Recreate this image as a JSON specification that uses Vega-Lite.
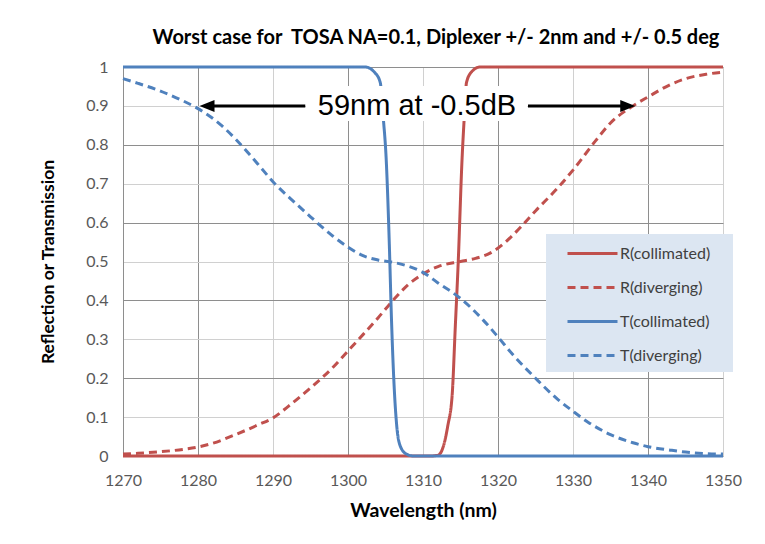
{
  "$schema": "https://vega.github.io/schema/vega-lite/v6.json",
  "width": 600,
  "height": 389,
  "autosize": {"type": "none"},
  "padding": {"left": 123, "top": 67, "right": 42, "bottom": 88},
  "background": "white",
  "title": {
    "text": "Worst case for \u00a0TOSA NA=0.1, Diplexer +/- 2nm and +/- 0.5 deg",
    "font": "Lato", "fontSize": 20, "fontWeight": "bold", "color": "black",
    "anchor": "middle", "baseline": "alphabetic", "offset": 24, "dx": 13, "dy": 29
  },
  "config": {
    "view": {"stroke": null},
    "axis": {
      "labelFont": "Lato", "labelFontSize": 16, "labelColor": "#595959",
      "labelFlush": false, "labelOverlap": false, "ticks": false,
      "titleFont": "Lato", "titleFontWeight": "bold", "titleColor": "black",
      "grid": true
    },
    "axisX": {"labelPadding": 16, "domain": false, "titleFontSize": 19.5},
    "axisY": {"labelPadding": 15, "domain": true, "domainColor": "#8e8e8e", "titleFontSize": 17.5}
  },
  "resolve": {"axis": {"x": "independent", "y": "independent"}},
  "datasets": {
    "curves": [
      {"wl": 1270, "v": 0, "series": "R(collimated)"},
      {"wl": 1300, "v": 0, "series": "R(collimated)"},
      {"wl": 1311, "v": 0, "series": "R(collimated)"},
      {"wl": 1312, "v": 0.002, "series": "R(collimated)"},
      {"wl": 1312.7, "v": 0.024, "series": "R(collimated)"},
      {"wl": 1313.3, "v": 0.077, "series": "R(collimated)"},
      {"wl": 1313.9, "v": 0.16, "series": "R(collimated)"},
      {"wl": 1314.3, "v": 0.33, "series": "R(collimated)"},
      {"wl": 1314.7, "v": 0.5, "series": "R(collimated)"},
      {"wl": 1315.2, "v": 0.76, "series": "R(collimated)"},
      {"wl": 1315.5, "v": 0.87, "series": "R(collimated)"},
      {"wl": 1315.8, "v": 0.96, "series": "R(collimated)"},
      {"wl": 1316.5, "v": 0.988, "series": "R(collimated)"},
      {"wl": 1317.6, "v": 1, "series": "R(collimated)"},
      {"wl": 1330, "v": 1, "series": "R(collimated)"},
      {"wl": 1350, "v": 1, "series": "R(collimated)"},

      {"wl": 1270, "v": 0.005, "series": "R(diverging)"},
      {"wl": 1272, "v": 0.007, "series": "R(diverging)"},
      {"wl": 1275, "v": 0.011, "series": "R(diverging)"},
      {"wl": 1278, "v": 0.017, "series": "R(diverging)"},
      {"wl": 1280, "v": 0.023, "series": "R(diverging)"},
      {"wl": 1282, "v": 0.033, "series": "R(diverging)"},
      {"wl": 1285, "v": 0.055, "series": "R(diverging)"},
      {"wl": 1288, "v": 0.08, "series": "R(diverging)"},
      {"wl": 1290, "v": 0.098, "series": "R(diverging)"},
      {"wl": 1292, "v": 0.127, "series": "R(diverging)"},
      {"wl": 1295, "v": 0.175, "series": "R(diverging)"},
      {"wl": 1298, "v": 0.228, "series": "R(diverging)"},
      {"wl": 1300, "v": 0.27, "series": "R(diverging)"},
      {"wl": 1302, "v": 0.312, "series": "R(diverging)"},
      {"wl": 1304, "v": 0.355, "series": "R(diverging)"},
      {"wl": 1306, "v": 0.4, "series": "R(diverging)"},
      {"wl": 1308, "v": 0.44, "series": "R(diverging)"},
      {"wl": 1310, "v": 0.468, "series": "R(diverging)"},
      {"wl": 1312, "v": 0.487, "series": "R(diverging)"},
      {"wl": 1315, "v": 0.5, "series": "R(diverging)"},
      {"wl": 1317, "v": 0.508, "series": "R(diverging)"},
      {"wl": 1319, "v": 0.522, "series": "R(diverging)"},
      {"wl": 1321, "v": 0.55, "series": "R(diverging)"},
      {"wl": 1323, "v": 0.588, "series": "R(diverging)"},
      {"wl": 1325, "v": 0.63, "series": "R(diverging)"},
      {"wl": 1328, "v": 0.69, "series": "R(diverging)"},
      {"wl": 1330, "v": 0.735, "series": "R(diverging)"},
      {"wl": 1333, "v": 0.81, "series": "R(diverging)"},
      {"wl": 1335, "v": 0.856, "series": "R(diverging)"},
      {"wl": 1338, "v": 0.9, "series": "R(diverging)"},
      {"wl": 1340, "v": 0.923, "series": "R(diverging)"},
      {"wl": 1343, "v": 0.955, "series": "R(diverging)"},
      {"wl": 1345, "v": 0.97, "series": "R(diverging)"},
      {"wl": 1348, "v": 0.982, "series": "R(diverging)"},
      {"wl": 1350, "v": 0.987, "series": "R(diverging)"},

      {"wl": 1270, "v": 1, "series": "T(collimated)"},
      {"wl": 1290, "v": 1, "series": "T(collimated)"},
      {"wl": 1302.3, "v": 1, "series": "T(collimated)"},
      {"wl": 1303.6, "v": 0.985, "series": "T(collimated)"},
      {"wl": 1304.3, "v": 0.96, "series": "T(collimated)"},
      {"wl": 1304.7, "v": 0.87, "series": "T(collimated)"},
      {"wl": 1305.1, "v": 0.76, "series": "T(collimated)"},
      {"wl": 1305.5, "v": 0.55, "series": "T(collimated)"},
      {"wl": 1305.8, "v": 0.35, "series": "T(collimated)"},
      {"wl": 1306.1, "v": 0.2, "series": "T(collimated)"},
      {"wl": 1306.5, "v": 0.077, "series": "T(collimated)"},
      {"wl": 1307.0, "v": 0.024, "series": "T(collimated)"},
      {"wl": 1307.8, "v": 0.005, "series": "T(collimated)"},
      {"wl": 1308.7, "v": 0, "series": "T(collimated)"},
      {"wl": 1320, "v": 0, "series": "T(collimated)"},
      {"wl": 1350, "v": 0, "series": "T(collimated)"},

      {"wl": 1270, "v": 0.97, "series": "T(diverging)"},
      {"wl": 1272, "v": 0.958, "series": "T(diverging)"},
      {"wl": 1275, "v": 0.938, "series": "T(diverging)"},
      {"wl": 1278, "v": 0.913, "series": "T(diverging)"},
      {"wl": 1280, "v": 0.893, "series": "T(diverging)"},
      {"wl": 1283, "v": 0.852, "series": "T(diverging)"},
      {"wl": 1285, "v": 0.815, "series": "T(diverging)"},
      {"wl": 1288, "v": 0.75, "series": "T(diverging)"},
      {"wl": 1290, "v": 0.705, "series": "T(diverging)"},
      {"wl": 1293, "v": 0.65, "series": "T(diverging)"},
      {"wl": 1295, "v": 0.615, "series": "T(diverging)"},
      {"wl": 1298, "v": 0.565, "series": "T(diverging)"},
      {"wl": 1300, "v": 0.537, "series": "T(diverging)"},
      {"wl": 1302, "v": 0.515, "series": "T(diverging)"},
      {"wl": 1304, "v": 0.504, "series": "T(diverging)"},
      {"wl": 1306, "v": 0.498, "series": "T(diverging)"},
      {"wl": 1308, "v": 0.488, "series": "T(diverging)"},
      {"wl": 1310, "v": 0.472, "series": "T(diverging)"},
      {"wl": 1312, "v": 0.445, "series": "T(diverging)"},
      {"wl": 1315, "v": 0.405, "series": "T(diverging)"},
      {"wl": 1318, "v": 0.35, "series": "T(diverging)"},
      {"wl": 1320, "v": 0.306, "series": "T(diverging)"},
      {"wl": 1322, "v": 0.26, "series": "T(diverging)"},
      {"wl": 1325, "v": 0.2, "series": "T(diverging)"},
      {"wl": 1328, "v": 0.145, "series": "T(diverging)"},
      {"wl": 1330, "v": 0.115, "series": "T(diverging)"},
      {"wl": 1332, "v": 0.087, "series": "T(diverging)"},
      {"wl": 1335, "v": 0.055, "series": "T(diverging)"},
      {"wl": 1338, "v": 0.034, "series": "T(diverging)"},
      {"wl": 1340, "v": 0.024, "series": "T(diverging)"},
      {"wl": 1343, "v": 0.015, "series": "T(diverging)"},
      {"wl": 1345, "v": 0.01, "series": "T(diverging)"},
      {"wl": 1348, "v": 0.006, "series": "T(diverging)"},
      {"wl": 1350, "v": 0.005, "series": "T(diverging)"}
    ],
    "notebox": [{"x": 1294.4, "x2": 1323.9, "y": 0.861, "y2": 0.951}],
    "note": [{"x": 1309.2, "y": 0.9, "label": "59nm at -0.5dB"}],
    "arrows": [
      {"x": 1281.5, "x2": 1294.3, "y": 0.9},
      {"x": 1324.0, "x2": 1337.0, "y": 0.9}
    ],
    "heads": [
      {"x": 1280.2, "y": 0.9, "dir": "left"},
      {"x": 1338.3, "y": 0.9, "dir": "right"}
    ]
  },
  "layer": [
    {
      "data": {"name": "curves"},
      "mark": {"type": "line", "strokeWidth": 3, "interpolate": "monotone"},
      "encoding": {
        "x": {
          "field": "wl", "type": "quantitative",
          "scale": {"domain": [1270, 1350], "nice": false, "zero": false},
          "axis": {
            "title": "Wavelength (nm)",
            "values": [1270, 1280, 1290, 1300, 1310, 1320, 1330, 1340, 1350],
            "format": "d",
            "gridColor": {"condition": {"test": "datum.value % 20 == 0", "value": "#8e8e8e"}, "value": "#d0d0d0"},
            "titleX": 300, "titleY": 54, "titleBaseline": "middle", "titleAlign": "center"
          }
        },
        "y": {
          "field": "v", "type": "quantitative",
          "scale": {"domain": [0, 1], "nice": false},
          "axis": {
            "title": "Reflection or Transmission",
            "values": [0, 0.1, 0.2, 0.3, 0.4, 0.5, 0.6, 0.7, 0.8, 0.9, 1],
            "format": ".1~f",
            "labelOverlap": false,
            "gridColor": {"condition": {"test": "round(datum.value * 10) % 2 == 0", "value": "#8e8e8e"}, "value": "#d0d0d0"},
            "titleX": -75, "titleY": 194.5, "titleAngle": -90, "titleBaseline": "middle", "titleAlign": "center"
          }
        },
        "color": {
          "field": "series", "type": "nominal",
          "scale": {"domain": ["R(collimated)", "R(diverging)", "T(collimated)", "T(diverging)"], "range": ["#c0504d", "#c0504d", "#4f81bd", "#4f81bd"]},
          "legend": {
            "orient": "none", "legendX": 423, "legendY": 167,
            "title": "\u00a0", "titleOrient": "right", "titlePadding": 15, "titleFontSize": 16,
            "fillColor": "#dce6f2", "padding": 8,
            "symbolType": "M-2.5,0H2.5", "symbolSize": 400, "symbolStrokeWidth": 3,
            "symbolOffset": 27, "labelOffset": 16, "rowPadding": 14,
            "labelFont": "Lato", "labelFontSize": 16, "labelColor": "#404040"
          }
        },
        "strokeDash": {
          "field": "series", "type": "nominal",
          "scale": {"domain": ["R(collimated)", "R(diverging)", "T(collimated)", "T(diverging)"], "range": [[1, 0], [8, 5], [1, 0], [8, 5]]},
          "legend": {
            "orient": "none", "legendX": 423, "legendY": 167,
            "title": "\u00a0", "titleOrient": "right", "titlePadding": 15, "titleFontSize": 16,
            "fillColor": "#dce6f2", "padding": 8,
            "symbolType": "M-2.5,0H2.5", "symbolSize": 400, "symbolStrokeWidth": 3,
            "symbolOffset": 27, "labelOffset": 16, "rowPadding": 14,
            "labelFont": "Lato", "labelFontSize": 16, "labelColor": "#404040"
          }
        }
      }
    },
    {
      "data": {"name": "notebox"},
      "mark": {"type": "rect", "fill": "white"},
      "encoding": {
        "x": {"field": "x", "type": "quantitative", "axis": null},
        "x2": {"field": "x2"},
        "y": {"field": "y", "type": "quantitative", "axis": null},
        "y2": {"field": "y2"}
      }
    },
    {
      "data": {"name": "note"},
      "mark": {"type": "text", "font": "Liberation Sans", "fontSize": 29, "align": "center", "baseline": "alphabetic", "dy": 9, "color": "black"},
      "encoding": {
        "x": {"field": "x", "type": "quantitative", "axis": null},
        "y": {"field": "y", "type": "quantitative", "axis": null},
        "text": {"field": "label"}
      }
    },
    {
      "data": {"name": "arrows"},
      "mark": {"type": "rule", "strokeWidth": 3, "color": "black"},
      "encoding": {
        "x": {"field": "x", "type": "quantitative", "axis": null},
        "x2": {"field": "x2"},
        "y": {"field": "y", "type": "quantitative", "axis": null}
      }
    },
    {
      "data": {"name": "heads"},
      "mark": {"type": "point", "filled": true, "opacity": 1, "size": 225, "color": "black", "strokeWidth": 0},
      "encoding": {
        "x": {"field": "x", "type": "quantitative", "axis": null},
        "y": {"field": "y", "type": "quantitative", "axis": null},
        "shape": {
          "field": "dir", "type": "nominal",
          "scale": {"domain": ["left", "right"], "range": ["M0,0L2,-0.8L2,0.8Z", "M0,0L-2,-0.8L-2,0.8Z"]},
          "legend": null
        }
      }
    }
  ]
}
